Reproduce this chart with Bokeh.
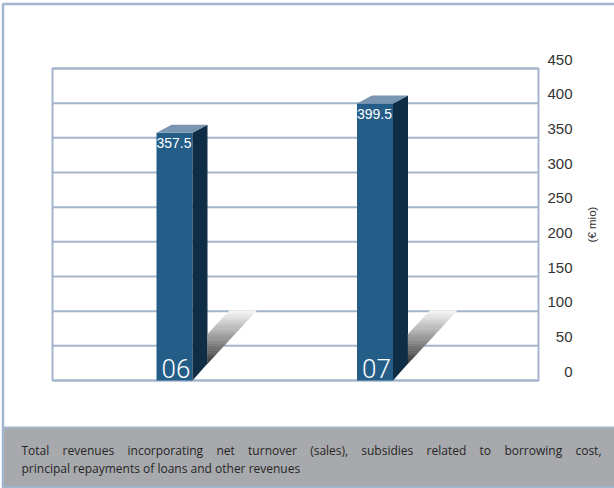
import math
from bokeh.plotting import figure
from bokeh.models import Range1d
from bokeh.embed import file_html
from bokeh.resources import INLINE
from bokeh.core.properties import value

# ---------------- data ----------------
years = ["06", "07"]
revenues = [357.5, 399.5]
value_labels = ["357.5", "399.5"]
y_ticks = [0, 50, 100, 150, 200, 250, 300, 350, 400, 450]
tick_labels = [str(t) for t in y_ticks]
axis_title = "(€ mio)"
caption_line1 = "Total revenues incorporating net turnover (sales), subsidies related to borrowing cost,"
caption_line2 = "principal repayments of loans and other revenues"

# ---------------- layout (pixels) ----------------
W, H = 614, 488
GL, GR, GT, GB = 52, 538, 68, 380          # grid box edges (px)
Y_MAX = 450
SY = (GB - GT) / Y_MAX                     # px per value unit
SX = 200.5                                 # px per category step
X0_PX = 174                                # centre of first bar (px)

def px_x(px):
    return (px - X0_PX) / SX

def px_y(py):
    return (GB - py) / SY

BAR_PX = 36
DEPTH_X, DEPTH_Y = 15, 8

GRID = "#a3b5cc"
FRONT = "#245e88"
SIDE = "#0f2d44"
TOP = "#7a95b1"
CAP_BG = "#a7a9ac"
TXT = "#333333"

p = figure(width=W, height=H, output_backend="svg", toolbar_location=None,
           x_range=Range1d(px_x(0), px_x(W)), y_range=Range1d(px_y(H), px_y(0)),
           x_axis_location=None, y_axis_location=None,
           min_border_left=0, min_border_right=0, min_border_top=0, min_border_bottom=0)
p.grid.visible = False
p.outline_line_color = None
p.background_fill_color = "white"
p.border_fill_color = "white"

# outer frame and caption panel
p.quad(left=[px_x(2.5)], right=[px_x(W + 20)], top=[px_y(427)], bottom=[px_y(487)],
       fill_color=CAP_BG, line_color=GRID, line_width=2)
p.quad(left=[px_x(2.5)], right=[px_x(W + 20)], top=[px_y(3.5)], bottom=[px_y(487)],
       fill_color=None, line_color=GRID, line_width=2.5)

# grid box and value grid lines
p.quad(left=[px_x(GL)], right=[px_x(GR)], top=[Y_MAX], bottom=[0],
       fill_color="white", line_color=GRID, line_width=2)
p.segment(x0=[px_x(GL)] * len(y_ticks), x1=[px_x(GR)] * len(y_ticks),
          y0=y_ticks, y1=y_ticks, line_color=GRID, line_width=2)

# value axis labels
p.text(x=[px_x(572)] * len(y_ticks), y=y_ticks, text=tick_labels,
       text_align="right", text_baseline="bottom", y_offset=-4,
       text_color=TXT, text_font=value("Liberation Sans"), text_font_size="15px")
p.text(x=[px_x(591)], y=[Y_MAX / 2], text=[axis_title], angle=math.pi / 2,
       text_align="center", text_baseline="middle",
       text_color=TXT, text_font=value("Liberation Sans"), text_font_size="11.5px")

# ---------------- bars ----------------
xs = list(range(len(revenues)))
bw = BAR_PX / SX
dx = DEPTH_X / SX
dy = DEPTH_Y / SY

p.vbar(x=xs, top=revenues, bottom=0, width=bw, fill_color=FRONT, line_color=None)

side_xs, side_ys, top_xs, top_ys = [], [], [], []
for x, v in zip(xs, revenues):
    r = x + bw / 2
    l = x - bw / 2
    side_xs.append([r, r + dx, r + dx, r])
    side_ys.append([v, v + dy, 17 / SY, 0])
    top_xs.append([l, r, r + dx, l + dx])
    top_ys.append([v, v, v + dy, v + dy])
p.patches(side_xs, side_ys, fill_color=SIDE, line_color=None)
p.patches(top_xs, top_ys, fill_color=TOP, line_color=None)

# floor shadow with a stepped vertical gradient
N = 24
lo, kink, hi = 17.0, 46.0, 70.0
def left_px(y):
    return 15.0 if y <= kink else 15.0 + (y - kink) * 22.0 / 24.0
def right_px(y):
    return 15.0 + (y - lo) * 49.0 / 53.0
sh_xs, sh_ys, sh_col = [], [], []
levels = sorted(set([lo + (hi - lo) * k / N for k in range(N + 1)] + [kink]))
for x in xs:
    r = x + bw / 2
    for a, b in zip(levels[:-1], levels[1:]):
        pts = [(left_px(a), a), (right_px(a), a), (right_px(b), b), (left_px(b), b)]
        sh_xs.append([r + q[0] / SX for q in pts])
        sh_ys.append([q[1] / SY for q in pts])
        t = ((a + b) / 2 - lo) / (hi - lo)
        g = int(60 + (248 - 60) * t)
        sh_col.append("#%02x%02x%02x" % (g, g, g))
p.patches(sh_xs, sh_ys, fill_color=sh_col, line_color=sh_col, line_width=0.5)

# value labels and year labels
p.text(x=[x - bw / 2 for x in xs], y=revenues, text=value_labels,
       x_offset=0, y_offset=5, text_baseline="top", text_align="left",
       text_color="white", text_font=value("Liberation Sans"), text_font_size="14px")
p.text(x=[x - bw / 2 for x in xs], y=[0] * len(xs), text=years,
       x_offset=5, y_offset=-3, text_baseline="bottom", text_align="left",
       text_color="white", text_font=value("Roboto Light, Roboto, sans-serif"),
       text_font_size="26px")

# ---------------- caption (first line justified) ----------------
CAP_FONT = "Open Sans"
CAP_SIZE = 12.0
CAP_LEFT, CAP_RIGHT = 21, 601
adv = {" ": 532, ",": 500, "(": 596, ")": 596, "T": 1130, "a": 1139, "b": 1255, "c": 975,
       "d": 1255, "e": 1149, "f": 694, "g": 1122, "h": 1257, "i": 518, "l": 518, "m": 1905,
       "n": 1257, "o": 1237, "p": 1255, "r": 836, "s": 977, "t": 723, "u": 1257, "v": 1026,
       "w": 1593, "y": 1028}
def wwidth(w):
    return sum(adv.get(ch, 1100) for ch in w) / 2048 * CAP_SIZE

words = caption_line1.split(" ")
widths = [wwidth(w) for w in words]
gap = (CAP_RIGHT - CAP_LEFT - sum(widths)) / (len(words) - 1)
wx, pos = [], CAP_LEFT
for wdt in widths:
    wx.append(pos)
    pos += wdt + gap
wx[-1] = CAP_RIGHT
aligns = ["left"] * (len(words) - 1) + ["right"]
p.text(x=[px_x(v) for v in wx], y=[px_y(450)] * len(words), text=words, text_align=aligns,
       text_baseline="alphabetic", text_color="#262626",
       text_font=value(CAP_FONT), text_font_size="%.1fpx" % CAP_SIZE)
p.text(x=[px_x(CAP_LEFT)], y=[px_y(468)], text=[caption_line2], text_align="left",
       text_baseline="alphabetic", text_color="#262626",
       text_font=value(CAP_FONT), text_font_size="%.1fpx" % CAP_SIZE)

open("out.html", "w").write(file_html(p, INLINE))
